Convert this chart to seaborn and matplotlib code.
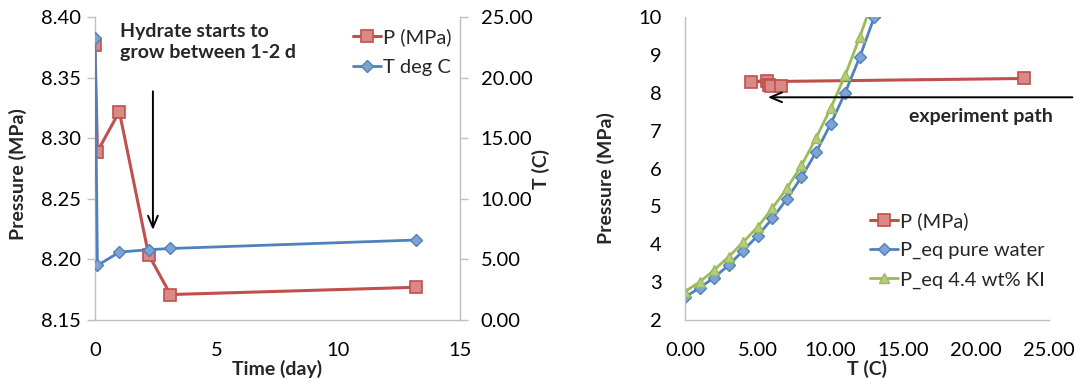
import numpy as np
import pandas as pd
import matplotlib
matplotlib.use("Agg")
import matplotlib.pyplot as plt
from matplotlib.ticker import FormatStrFormatter, MultipleLocator
import seaborn as sns

sns.set_style("white")
plt.rcParams['font.family'] = ['Lato', 'DejaVu Sans']
plt.rcParams['font.size'] = 14

# left chart data (time series)
time_day = [0.0, 0.1, 1.0, 2.2, 3.1, 13.2]
p_mpa = [8.377, 8.289, 8.322, 8.204, 8.171, 8.177]
t_degc = [23.3, 4.5, 5.6, 5.8, 5.9, 6.6]

# right chart data (phase diagram)
t_eq = list(range(0, 14))
p_eq_water = [2.60, 2.85, 3.12, 3.45, 3.83, 4.23, 4.68, 5.20, 5.77, 6.43, 7.17, 8.00, 8.94, 10.00]
p_eq_ki = [2.75, 3.00, 3.32, 3.67, 4.06, 4.46, 4.95, 5.48, 6.08, 6.80, 7.59, 8.46, 9.47, 10.55]

RED = '#C0504D'
RED_FILL = '#D98A87'
BLUE = '#4F81BD'
BLUE_FILL = '#7EA3D3'
GREEN = '#9BBB59'
GREEN_FILL = '#B5CE7E'
GREY = '#BFBFBF'
TICK_FS = 14.5
LABEL_FS = 14

fig = plt.figure(figsize=(10.8, 3.79), dpi=100)
ax1 = fig.add_axes([95/1080, 1-320/379, 365/1080, 303/379])
ax3 = fig.add_axes([685/1080, 1-320/379, 364/1080, 303/379])


def style_axis(ax, sides):
    for s in ['top', 'right', 'left', 'bottom']:
        ax.spines[s].set_visible(s in sides)
        ax.spines[s].set_color(GREY)
        ax.spines[s].set_linewidth(1.0)
    ax.tick_params(axis='both', which='major', direction='out', length=6,
                   width=1, color=GREY, labelsize=TICK_FS, labelcolor='black')


# ---- left chart ----
sns.lineplot(x=time_day, y=p_mpa, sort=False, ax=ax1, color=RED, lw=2.2,
             marker='s', markersize=8, markerfacecolor=RED_FILL,
             markeredgecolor=RED, markeredgewidth=1.2, label='P (MPa)', legend=False)
ax2 = ax1.twinx()
ax2.set_position(ax1.get_position())
sns.lineplot(x=time_day, y=t_degc, sort=False, ax=ax2, color=BLUE, lw=2.0,
             marker='D', markersize=6, markerfacecolor=BLUE_FILL,
             markeredgecolor=BLUE, markeredgewidth=1.0, label='T deg C', legend=False)

ax1.set_xlim(0, 15)
ax1.set_ylim(8.15, 8.40)
ax2.set_ylim(0, 25)
ax1.xaxis.set_major_locator(MultipleLocator(5))
ax1.yaxis.set_major_locator(MultipleLocator(0.05))
ax1.yaxis.set_major_formatter(FormatStrFormatter('%.2f'))
ax2.yaxis.set_major_locator(MultipleLocator(5))
ax2.yaxis.set_major_formatter(FormatStrFormatter('%.2f'))
style_axis(ax1, ['left', 'bottom'])
style_axis(ax2, ['right'])
ax1.tick_params(axis='x', pad=10)
ax1.tick_params(axis='y', pad=4)
ax2.tick_params(axis='y', pad=9)

ax1.set_xlabel('Time (day)', fontweight='bold', fontsize=LABEL_FS)
ax1.xaxis.set_label_coords(0.5, -0.133)
ax1.set_ylabel('Pressure (MPa)', fontweight='bold', fontsize=LABEL_FS)
ax1.yaxis.set_label_coords(-0.186, 0.48)
ax2.set_ylabel('T (C)', fontweight='bold', fontsize=LABEL_FS)
ax2.yaxis.set_label_coords(1.197, 0.5)

h1, l1 = ax1.get_legend_handles_labels()
h2, l2 = ax2.get_legend_handles_labels()
ax2.legend(h1 + h2, l1 + l2, loc='upper left', bbox_to_anchor=(0.68, 0.995),
           frameon=False, handlelength=1.4, handletextpad=0.1, borderpad=0,
           labelspacing=0.6, fontsize=TICK_FS)

ax1.text(0.068, 0.98, 'Hydrate starts to\ngrow between 1-2 d', transform=ax1.transAxes,
         ha='left', va='top', fontweight='bold', fontsize=LABEL_FS, linespacing=1.3)
ax1.annotate('', xy=(2.38, 8.222), xytext=(2.38, 8.341),
             arrowprops=dict(arrowstyle='->,head_length=0.6,head_width=0.25',
                             color='black', lw=1.4))

# ---- right chart ----
sns.lineplot(x=t_degc, y=p_mpa, sort=False, ax=ax3, color=RED, lw=2.2,
             marker='s', markersize=8, markerfacecolor=RED_FILL,
             markeredgecolor=RED, markeredgewidth=1.2, label='P (MPa)', legend=False)
sns.lineplot(x=t_eq, y=p_eq_water, sort=False, ax=ax3, color=BLUE, lw=2.0,
             marker='D', markersize=6, markerfacecolor=BLUE_FILL,
             markeredgecolor=BLUE, markeredgewidth=1.0, label='P_eq pure water', legend=False)
sns.lineplot(x=t_eq, y=p_eq_ki, sort=False, ax=ax3, color=GREEN, lw=2.0,
             marker='^', markersize=7, markerfacecolor=GREEN_FILL,
             markeredgecolor=GREEN, markeredgewidth=1.0, label='P_eq 4.4 wt% KI', legend=False)

ax3.set_xlim(0, 25)
ax3.set_ylim(2, 10)
ax3.xaxis.set_major_locator(MultipleLocator(5))
ax3.xaxis.set_major_formatter(FormatStrFormatter('%.2f'))
ax3.yaxis.set_major_locator(MultipleLocator(1))
style_axis(ax3, ['left', 'bottom'])
ax3.tick_params(axis='x', pad=10)
ax3.tick_params(axis='y', pad=11)

ax3.set_xlabel('T (C)', fontweight='bold', fontsize=LABEL_FS)
ax3.xaxis.set_label_coords(0.5, -0.133)
ax3.set_ylabel('Pressure (MPa)', fontweight='bold', fontsize=LABEL_FS)
ax3.yaxis.set_label_coords(-0.192, 0.47)

ax3.legend(loc='upper left', bbox_to_anchor=(0.48, 0.39), frameon=False,
           handlelength=1.4, handletextpad=0.1, borderpad=0,
           labelspacing=0.6, fontsize=TICK_FS)

ax3.annotate('', xy=(5.5, 7.88), xytext=(26.8, 7.88), annotation_clip=False,
             arrowprops=dict(arrowstyle='->,head_length=0.6,head_width=0.25',
                             color='black', lw=1.4))
ax3.text(20.3, 7.38, 'experiment path', ha='center', va='center',
         fontweight='bold', fontsize=LABEL_FS)

fig.savefig('out.png', dpi=100)
